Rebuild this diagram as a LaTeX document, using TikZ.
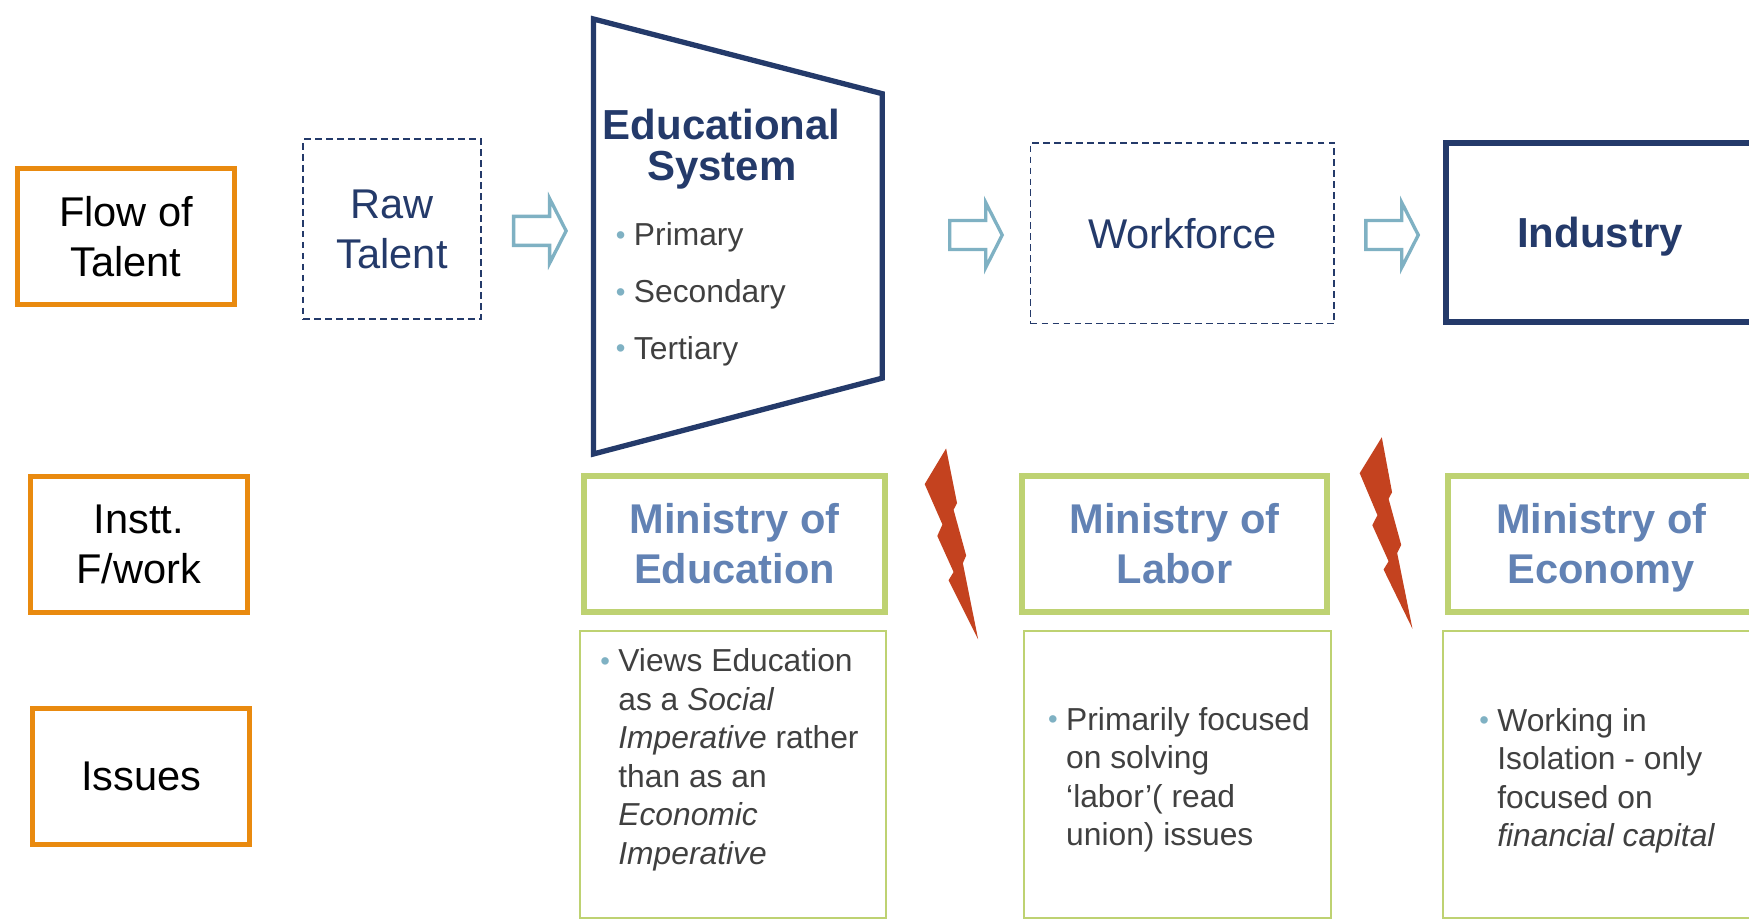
\documentclass[tikz,border=0pt]{standalone}
\usepackage{fontspec}
\setmainfont{Liberation Sans}
\usetikzlibrary{shapes.arrows}

\definecolor{navy}{HTML}{243A6A}
\definecolor{tangerine}{HTML}{E98A0F}
\definecolor{leaf}{HTML}{BED272}
\definecolor{minblue}{HTML}{6282B4}
\definecolor{arrowblue}{HTML}{7FB1C3}
\definecolor{boltred}{HTML}{C4421F}
\definecolor{textgray}{HTML}{404040}

\newcommand{\bigfont}{\fontsize{10.6}{12.8}\selectfont}
\newcommand{\smallfont}{\fontsize{8.1}{9.8}\selectfont}
\newcommand{\blt}{\makebox[4.6pt][l]{\textcolor{arrowblue}{\fontsize{7}{7}\selectfont\raisebox{0.4pt}{•}}}}
\newcommand{\bltpad}{\hspace*{4.6pt}}

\tikzstyle{rowlabel} = [draw=tangerine,line width=1.3pt,minimum width=1.94cm,minimum height=1.22cm,inner sep=0pt,align=center,font=\bigfont]
\tikzstyle{stage} = [draw=navy,line width=0.45pt,dash pattern=on 1.7pt off 1.1pt,inner sep=0pt,align=center,font=\bigfont,text=navy]
\tikzstyle{ministry} = [draw=leaf,line width=1.45pt,minimum height=1.22cm,inner sep=0pt,align=center,font=\bigfont\bfseries,text=minblue]
\tikzstyle{issuebox} = [draw=leaf,line width=0.5pt,minimum height=2.57cm,inner sep=0pt]
\tikzstyle{flowarrow} = [single arrow,draw=arrowblue,fill=white,line width=0.85pt,inner sep=0.115cm,single arrow head extend=0.16cm,single arrow tip angle=126,minimum height=0.47cm,anchor=tail]
\tikzstyle{bullets} = [anchor=north west,inner sep=0pt,align=left,font=\smallfont,text=textgray]

\begin{document}
\begin{tikzpicture}[x=0.01cm,y=-0.01cm]
	\useasboundingbox (0,0) rectangle (1568,827);
	\clip (0,0) rectangle (1568,827);
	% row labels
	\node[rowlabel] (flow) at (113,212) {Flow of\\Talent};
	\node[rowlabel] (instt) at (124.5,488) {Instt.\\F/work};
	\node[rowlabel] (issues) at (126.5,696) {Issues};
	% flow of talent
	\node[stage,minimum width=1.59cm,minimum height=1.61cm] (raw) at (351.5,205.5) {Raw\\Talent};
	\node[flowarrow] (a1) at (459,207) {};
	\draw[navy,line width=1.35pt] (532,17) -- (791,84) -- (791,339) -- (532,407) -- cycle;
	\node[inner sep=0pt,align=center,font=\fontsize{10.7}{10.5}\selectfont\bfseries,text=navy] (edu) at (647,133.5) {Educational\\System};
	\node[bullets,font=\fontsize{8.1}{14.5}\selectfont] (levels) at (551.5,199) {\blt Primary\\\blt Secondary\\\blt Tertiary};
	\node[flowarrow] (a2) at (850,210.7) {};
	\node[stage,minimum width=2.72cm,minimum height=1.62cm,text depth=0pt] (work) at (1060,209) {Workforce};
	\node[flowarrow] (a3) at (1223,210.7) {};
	\node[draw=navy,line width=1.5pt,minimum width=2.76cm,minimum height=1.60cm,inner sep=0pt,text depth=0pt,font=\fontsize{10.7}{12.8}\selectfont\bfseries,text=navy] (ind) at (1434.5,208.5) {Industry};
	% ministries
	\node[ministry,minimum width=2.70cm] (moe) at (658.5,487.5) {Ministry of\\Education};
	\node[ministry,minimum width=2.73cm] (mol) at (1053,487.5) {Ministry of\\Labor};
	\node[ministry,minimum width=2.74cm] (mec) at (1435.5,487.5) {Ministry of\\Econom\smash{y}};
	\fill[boltred] (848.2,402) -- (858,451.1) -- (854.9,457) -- (866.2,498.1) -- (863.2,504.9) -- (876.9,573.1)
		-- (850.4,520.2) -- (854.9,512.8) -- (840.3,480.5) -- (844.9,470.2) -- (829,434) -- cycle;
	\fill[boltred] (1238.8,392) -- (1248,441.3) -- (1244.9,447.2) -- (1256.2,488.5) -- (1252.6,495.8) -- (1266.3,563.7)
		-- (1240.4,510.6) -- (1244.9,503.2) -- (1230.3,470.8) -- (1234.9,461.9) -- (1219,424.2) -- cycle;
	% issues
	\node[issuebox,minimum width=2.74cm] (ie) at (657.3,694.5) {};
	\node[issuebox,minimum width=2.75cm] (il) at (1055.5,694.5) {};
	\node[issuebox,minimum width=2.76cm] (ic) at (1432,694.5) {};
	\node[bullets] (te) at (537.5,581) {\blt Views Education\\\bltpad as a \textit{Social}\\\bltpad\textit{Imperative} rather\\\bltpad than as an\\\bltpad\textit{Economic}\\\bltpad\textit{Imperative}};
	\node[bullets] (tl) at (939,633.5) {\blt Primarily focused\\\bltpad on solving\\\bltpad ‘labor’( read\\\bltpad union) issues};
	\node[bullets] (tc) at (1325.5,634.5) {\blt Working in\\\bltpad Isolation - only\\\bltpad focused on\\\bltpad\textit{financial capital}};
\end{tikzpicture}
\end{document}
